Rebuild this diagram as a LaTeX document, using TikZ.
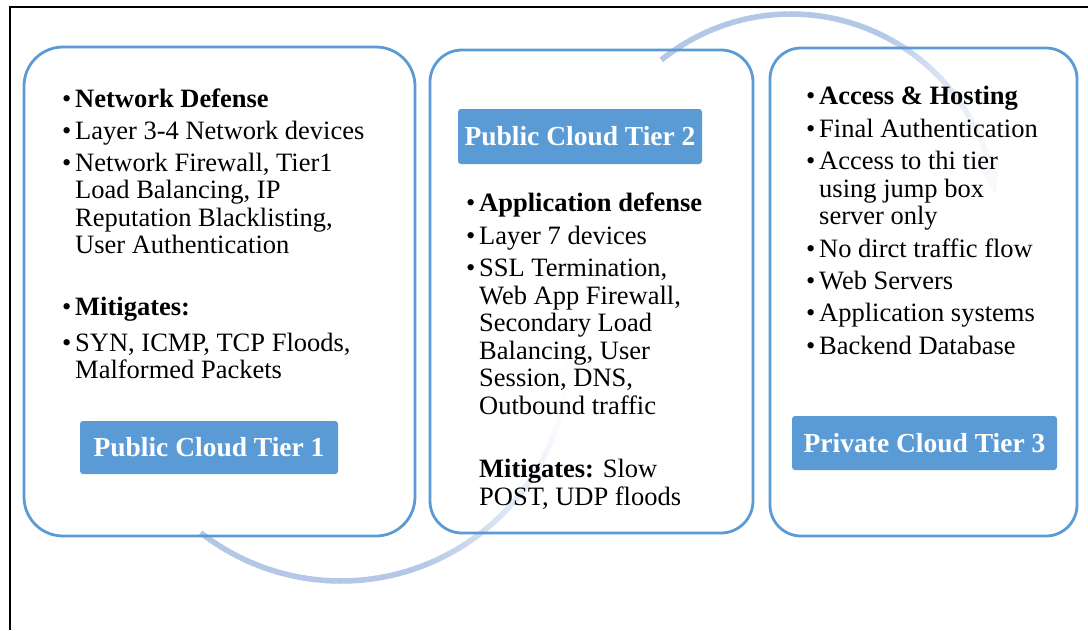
\documentclass[tikz,border=0pt]{standalone}
\usepackage{fontspec}
\setmainfont{Liberation Serif}
\usetikzlibrary{calc}
\definecolor{tierblue}{RGB}{91,155,213}
\definecolor{arcblue}{RGB}{180,199,231}

\begin{document}
\begin{tikzpicture}[x=1pt,y=-1pt,
  tierbox/.style={draw=tierblue, line width=2.8pt, rounded corners=#1, inner sep=0pt},
  tierlabel/.style={fill=tierblue, rounded corners=3pt, inner sep=0pt, text=white,
    font=\fontsize{27.5}{33}\selectfont\bfseries},
  txt/.style={anchor=base west, inner sep=0pt, font=\fontsize{26.5}{32}\selectfont},
  bul/.style={txt},
  arcline/.style={line width=5.5pt, line cap=butt}]
\useasboundingbox (0,0) rectangle (1088,630);

% outer frame (top and left rules)
\draw[line width=2pt] (10,630) -- (10,7) -- (1088,7);

% circular flow arrows, fading out toward their heads
\coordinate (bc) at (341,353);
\coordinate (tc) at (791,220);
\foreach \i in {0,...,79} {
  \pgfmathsetmacro{\aa}{128 - \i*(120/80)}
  \pgfmathsetmacro{\ab}{\aa - 120/80 - 0.4}
  \pgfmathsetmacro{\pc}{\aa > 70 ? 100 : max(3, 100*((\aa-5)/65)^1.6)}
  \draw[arcline, color=arcblue!\pc!white] ($(bc)+(\aa:228)$) arc[start angle=\aa, end angle=\ab, radius=228];
}
\fill[arcblue!3!white] ($(bc)+(8:239)$) -- ($(bc)+(0:228)$) -- ($(bc)+(8:217)$) -- cycle;
\foreach \i in {0,...,69} {
  \pgfmathsetmacro{\aa}{-129 + \i*(113/70)}
  \pgfmathsetmacro{\ab}{\aa + 113/70 + 0.4}
  \pgfmathsetmacro{\pc}{\aa < -65 ? 100 : max(8, 100*((-5-\aa)/60)^1.6)}
  \draw[arcline, color=arcblue!\pc!white] ($(tc)+(\aa:206)$) arc[start angle=\aa, end angle=\ab, radius=206];
}
\fill[arcblue!10!white] ($(tc)+(-16:217)$) -- ($(tc)+(-7:206)$) -- ($(tc)+(-16:195)$) -- cycle;

% tier panels
\node[tierbox=39, minimum width=391, minimum height=489] (box1) at (219.5,291.5) {};
\node[tierbox=32, minimum width=323, minimum height=483] (box2) at (591.5,291.5) {};
\node[tierbox=31, minimum width=307, minimum height=488] (box3) at (923.5,292) {};

% tier titles
\node[tierlabel, minimum width=258, minimum height=53] (lab1) at (209,447.5) {Public Cloud Tier 1};
\node[tierlabel, minimum width=244, minimum height=55] (lab2) at (580,136.5) {Public Cloud Tier 2};
\node[tierlabel, minimum width=265, minimum height=54] (lab3) at (924.5,443) {Private Cloud Tier 3};

% tier 1 contents
\node[bul] (u1a) at (62,107) {\textbullet};
\node[txt] (t1a) at (75,107) {\textbf{Network Defense}};
\node[bul] (u1b) at (62,139) {\textbullet};
\node[txt] (t1b) at (75,139) {Layer 3-4 Network devices};
\node[bul] (u1c) at (62,171) {\textbullet};
\node[txt] (t1c) at (75,171) {Network Firewall, Tier1};
\node[txt] (t1d) at (75,198) {Load Balancing, IP};
\node[txt] (t1e) at (75,226) {Reputation Blacklisting,};
\node[txt] (t1f) at (75,253) {User Authentication};
\node[bul] (u1g) at (62,315) {\textbullet};
\node[txt] (t1g) at (75,315) {\textbf{Mitigates:}};
\node[bul] (u1h) at (62,351) {\textbullet};
\node[txt] (t1h) at (75,351) {SYN, ICMP, TCP Floods,};
\node[txt] (t1i) at (75,378) {Malformed Packets};

% tier 2 contents
\node[bul] (u2a) at (466,211) {\textbullet};
\node[txt] (t2a) at (479,211) {\textbf{Application defense}};
\node[bul] (u2b) at (466,244) {\textbullet};
\node[txt] (t2b) at (479,244) {Layer 7 devices};
\node[bul] (u2c) at (466,276) {\textbullet};
\node[txt] (t2c) at (479,276) {SSL Termination,};
\node[txt] (t2d) at (479,304) {Web App Firewall,};
\node[txt] (t2e) at (479,331) {Secondary Load};
\node[txt] (t2f) at (479,359) {Balancing, User};
\node[txt] (t2g) at (479,386) {Session, DNS,};
\node[txt] (t2h) at (479,414) {Outbound traffic};
\node[txt] (t2i) at (479,477) {\textbf{Mitigates:} Slow};
\node[txt] (t2j) at (479,505) {POST, UDP floods};

% tier 3 contents
\node[bul] (u3a) at (806,104) {\textbullet};
\node[txt] (t3a) at (819,104) {\textbf{Access \& Hosting}};
\node[bul] (u3b) at (806,137) {\textbullet};
\node[txt] (t3b) at (819,137) {Final Authentication};
\node[bul] (u3c) at (806,169) {\textbullet};
\node[txt] (t3c) at (819,169) {Access to thi tier};
\node[txt] (t3d) at (819,197) {using jump box};
\node[txt] (t3e) at (819,224) {server only};
\node[bul] (u3f) at (806,257) {\textbullet};
\node[txt] (t3f) at (819,257) {No dirct traffic flow};
\node[bul] (u3g) at (806,289) {\textbullet};
\node[txt] (t3g) at (819,289) {Web Servers};
\node[bul] (u3h) at (806,321) {\textbullet};
\node[txt] (t3h) at (819,321) {Application systems};
\node[bul] (u3i) at (806,354) {\textbullet};
\node[txt] (t3i) at (819,354) {Backend Database};
\end{tikzpicture}
\end{document}
